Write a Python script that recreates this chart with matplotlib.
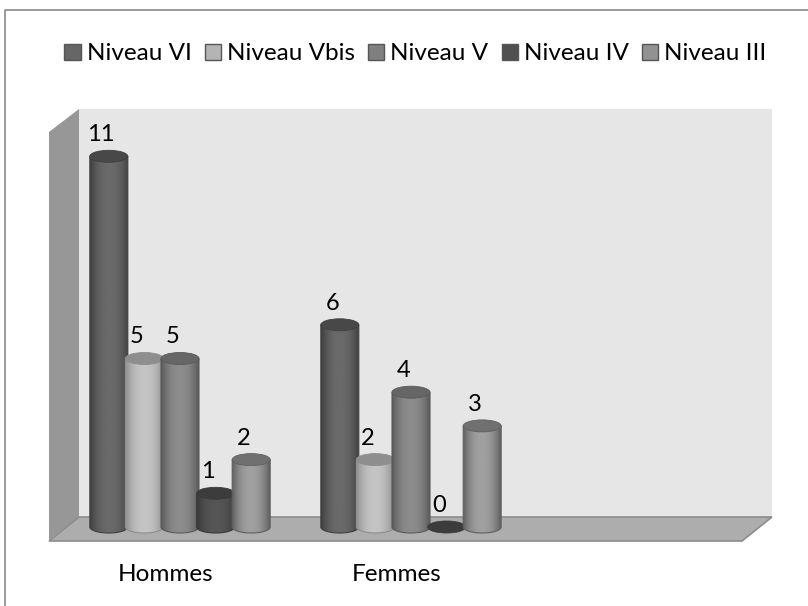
import numpy as np
import matplotlib
matplotlib.use("Agg")
import matplotlib.pyplot as plt
from matplotlib.colors import LinearSegmentedColormap
from matplotlib.patches import Ellipse, Patch, Polygon

# --- DATA ---
groups = ["Hommes", "Femmes"]
levels = ["Niveau VI", "Niveau Vbis", "Niveau V", "Niveau IV", "Niveau III"]
hommes = [11, 5, 5, 1, 2]
femmes = [6, 2, 4, 0, 3]

# --- STYLE ---
edge_cols = ["#404040", "#8e8e8e", "#5a5a5a", "#3a3a3a", "#606060"]
mid_cols = ["#6a6a6a", "#c4c4c4", "#8c8c8c", "#565656", "#a0a0a0"]
top_cols = ["#484848", "#8e8e8e", "#666666", "#3c3c3c", "#707070"]
leg_cols = ["#666666", "#b4b4b4", "#808080", "#505050", "#929292"]
PX_X = 231.0   # pixels between groups
PX_Y = 33.7    # pixels per unit
BASE_PX = 527.0
STEP = 35.6 / PX_X
WIDTH = 38.0 / PX_X
ELL_H = 12.0 / PX_Y

plt.rcParams['font.family'] = ['Lato', 'DejaVu Sans']
fig = plt.figure(figsize=(8.08, 6.06), dpi=100)

# pixel layer for the chart frame and the 3D box
bg = fig.add_axes([0, 0, 1, 1])
bg.set_xlim(0, 808)
bg.set_ylim(606, 0)
bg.axis('off')
bg.plot([4.5, 4.5, 808], [606, 9.5, 9.5], color='#8a8a8a', lw=1.2)
bg.add_patch(Polygon([(79, 109), (772, 109), (772, 517), (79, 517)], fc='#e6e6e6', ec='none'))
bg.add_patch(Polygon([(49, 132), (79, 109), (79, 517), (49, 540)], fc='#979797', ec='none'))
bg.add_patch(Polygon([(49, 541), (79, 517), (772, 517), (742, 541)], fc='#adadad', ec='#8c8c8c', lw=1.2))

# data layer
ax = fig.add_axes([0, 0, 1, 1])
ax.patch.set_alpha(0)
ax.axis('off')
xlim = (-180 / PX_X, (808 - 180) / PX_X)
ylim = (-(606 - BASE_PX) / PX_Y, BASE_PX / PX_Y)
theta = np.linspace(np.pi, 2 * np.pi, 40)

series = [hommes, femmes]
for g, vals in enumerate(series):
    for j, val in enumerate(vals):
        x = g + (j - 2) * STEP
        left = x - WIDTH / 2
        z = 2 + j * 0.1
        if val > 0:
            cmap = LinearSegmentedColormap.from_list('c', [edge_cols[j], mid_cols[j]])
            grad = 1 - np.abs(np.linspace(-1, 1, 64)) ** 2.2
            # body outline: straight sides with a rounded foot
            foot_x = x + WIDTH / 2 * np.cos(theta)
            foot_y = ELL_H / 2 * np.sin(theta)
            outline = np.column_stack([np.r_[left, foot_x, left + WIDTH], np.r_[val, foot_y, val]])
            body = Polygon(outline, closed=True, fc='none', ec=edge_cols[j], lw=0.8, zorder=z + 0.01)
            ax.add_patch(body)
            im = ax.imshow(grad[None, :], cmap=cmap, aspect='auto', vmin=0, vmax=1,
                           extent=(left, left + WIDTH, -ELL_H, val), zorder=z)
            im.set_clip_path(body)
        top = Ellipse((x, val), WIDTH, ELL_H, fc=top_cols[j], ec=edge_cols[j], lw=0.6, zorder=z + 0.02)
        ax.add_patch(top)
        ax.annotate(str(val), (x, val), xytext=(-5.5, 15.5), textcoords='offset points',
                    ha='center', va='center', fontsize=17, color='black', zorder=5)

for g, name in enumerate(groups):
    ax.annotate(name, (g, ylim[0]), xytext=(-10.5, 23), textcoords='offset points',
                ha='center', va='center', fontsize=17.5, color='black')

ax.set_xlim(*xlim)
ax.set_ylim(*ylim)

handles = [Patch(fc=c, ec='#555555', lw=1) for c in leg_cols]
leg = fig.legend(handles, levels, ncol=5, loc='center', bbox_to_anchor=(415.5 / 808, 1 - 54 / 606),
                 frameon=False, fontsize=17.5, handlelength=0.66, handleheight=0.66,
                 handletextpad=0.25, columnspacing=0.55, borderpad=0)

fig.savefig("out.png", dpi=100)
